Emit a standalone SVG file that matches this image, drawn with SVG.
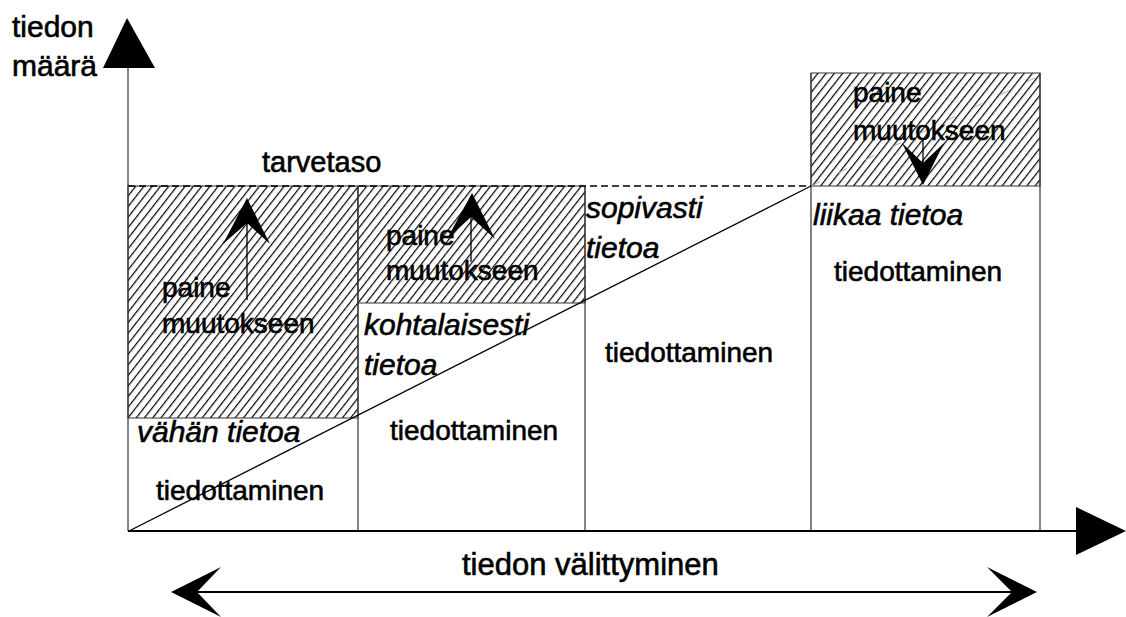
<svg xmlns="http://www.w3.org/2000/svg" width="1126" height="617" viewBox="0 0 1126 617">
<style>
.t{font-family:"Liberation Sans",Arial,sans-serif;fill:#000;stroke:#000;stroke-width:0.6}
.r{font-size:28px}
.i{font-size:30px;font-style:italic}
.box{fill:none;stroke:#333;stroke-width:1.2}
.hat{fill:url(#hatch);stroke:#333;stroke-width:1}
.ln{stroke:#000;stroke-width:1.3;fill:none}
.ah{fill:#000;stroke:none}
</style>
<defs>
<pattern id="hatch" patternUnits="userSpaceOnUse" width="6.5" height="6.5" patternTransform="rotate(38)">
<rect width="6.5" height="6.5" fill="#fff"/>
<line x1="0" y1="0" x2="0" y2="6.5" stroke="#000" stroke-width="2.4"/>
</pattern>
</defs>
<rect width="1126" height="617" fill="#fff"/>

<g id="hatched-areas">
<rect class="hat" x="128" y="186" width="230" height="232"/>
<rect class="hat" x="358" y="186" width="227" height="117"/>
<rect class="hat" x="811" y="73" width="229" height="113"/>
</g>

<g id="columns">
<line class="box" x1="358" y1="186" x2="358" y2="531"/>
<line class="box" x1="585" y1="186" x2="585" y2="531"/>
<line class="box" x1="811" y1="73" x2="811" y2="531"/>
<line class="box" x1="1040" y1="73" x2="1040" y2="531"/>
<line x1="128" y1="186" x2="811" y2="186" stroke="#000" stroke-width="1.5" stroke-dasharray="7,4"/>
</g>

<g id="axes">
<line x1="128" y1="66" x2="128" y2="531" stroke="#333" stroke-width="1.2"/>
<polygon class="ah" points="127,18 155,68 103,68"/>
<line x1="128" y1="531" x2="1078" y2="531" stroke="#000" stroke-width="2.2"/>
<polygon class="ah" points="1076,507 1126,531 1076,555"/>
</g>

<g id="connectors">
<line class="ln" x1="129" y1="531" x2="811" y2="186"/>
<line x1="811" y1="186" x2="1035" y2="78" stroke="#aaa" stroke-width="1" stroke-dasharray="10,20"/>
<line class="ln" x1="247" y1="222" x2="247" y2="300"/>
<polygon class="ah" points="247,198 270,244 247,223 223,244"/>
<line class="ln" x1="471" y1="216" x2="471" y2="262"/>
<polygon class="ah" points="472,193 495,239 471,217 447,239"/>
<line class="ln" x1="923" y1="140" x2="923" y2="163"/>
<polygon class="ah" points="923,185 944,143 923,163 902,143"/>
<line x1="196" y1="592" x2="1013" y2="592" stroke="#000" stroke-width="1.8"/>
<polygon class="ah" points="171,592 221,567 197,592 221,617"/>
<polygon class="ah" points="1037,592 987,567 1012,592 987,617"/>
</g>

<g id="labels">
<text class="t" x="12" y="37" font-size="30">tiedon</text>
<text class="t" x="12" y="76" font-size="30">määrä</text>
<text class="t" x="262" y="172" font-size="29">tarvetaso</text>
<text class="t" x="462" y="575" font-size="31">tiedon välittyminen</text>
</g>

<g id="col1">
<text class="t r" x="162" y="297">paine</text>
<text class="t r" x="162" y="333">muutokseen</text>
<text class="t i" x="137" y="442">vähän tietoa</text>
<text class="t r" x="156" y="500">tiedottaminen</text>
</g>

<g id="col2">
<text class="t r" x="386" y="245">paine</text>
<text class="t r" x="386" y="280">muutokseen</text>
<text class="t i" x="364" y="335">kohtalaisesti</text>
<text class="t i" x="364" y="375">tietoa</text>
<text class="t r" x="390" y="440">tiedottaminen</text>
</g>

<g id="col3">
<text class="t i" x="586" y="218">sopivasti</text>
<text class="t i" x="586" y="258">tietoa</text>
<text class="t r" x="605" y="362">tiedottaminen</text>
</g>

<g id="col4">
<text class="t r" x="853" y="102">paine</text>
<text class="t r" x="853" y="140">muutokseen</text>
<text class="t i" x="813" y="225">liikaa tietoa</text>
<text class="t r" x="834" y="281">tiedottaminen</text>
</g>
</svg>
